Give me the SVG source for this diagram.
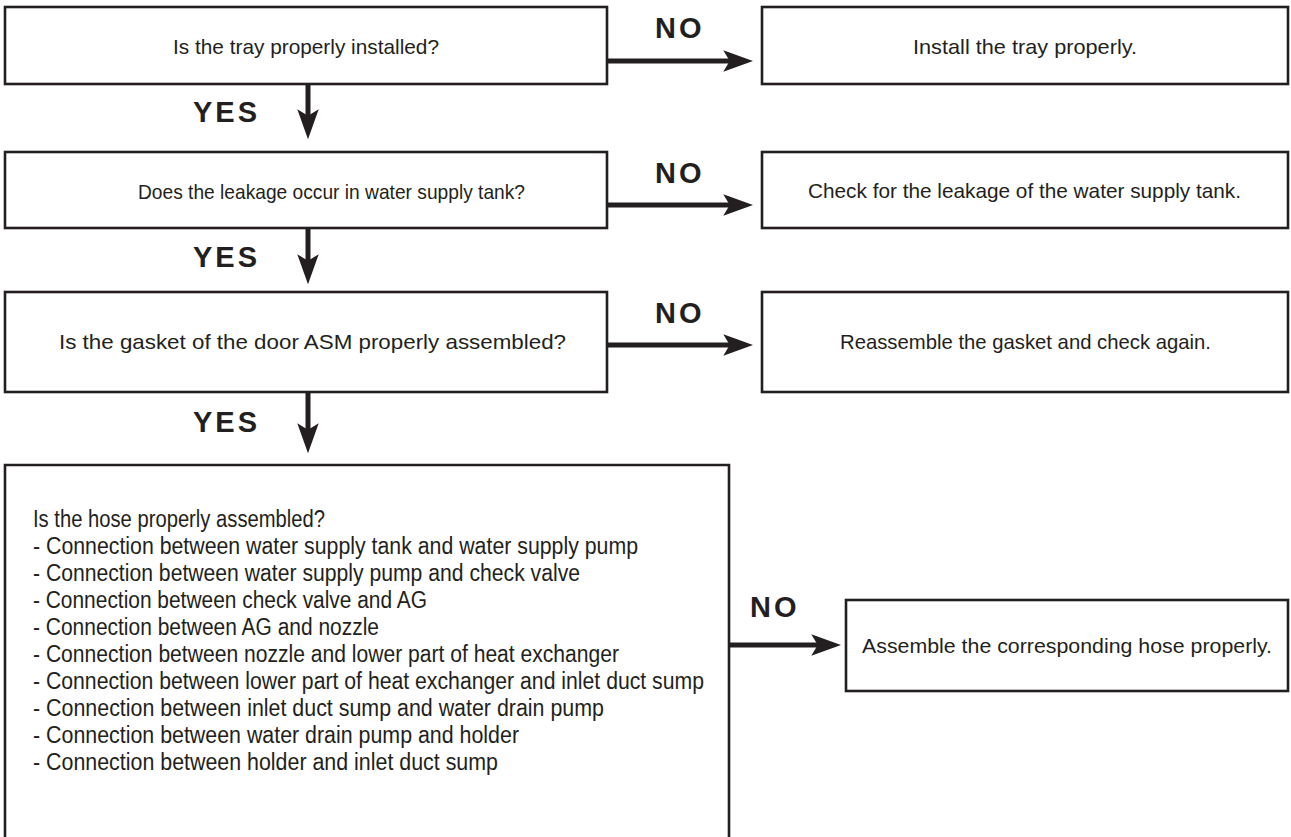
<svg xmlns="http://www.w3.org/2000/svg" width="1291" height="837" viewBox="0 0 1291 837">
<style>
.box{fill:#fff;stroke:#231f20;stroke-width:2.6}
.t{font-family:"Liberation Sans",Arial,sans-serif;font-size:21px;fill:#231f20}
.b{font-size:23px}
.c{text-anchor:middle}
.lbl{font-family:"Liberation Sans",Arial,sans-serif;font-size:29px;font-weight:bold;fill:#231f20;letter-spacing:3px}
.arr{fill:none;stroke:#231f20;stroke-width:5;marker-end:url(#ah)}
</style>
<defs>
<marker id="ah" markerUnits="userSpaceOnUse" markerWidth="30" markerHeight="22" viewBox="0 0 28 20" refX="10" refY="10" orient="auto">
<path d="M0,0 L28,10 L0,20 L6,10 Z" fill="#231f20"/>
</marker>
</defs>
<rect width="1291" height="837" fill="#fff"/>
<g id="connectors">
<line class="arr" x1="607" y1="61" x2="734" y2="61"/>
<line class="arr" x1="607" y1="205" x2="734" y2="205"/>
<line class="arr" x1="607" y1="345" x2="734" y2="345"/>
<line class="arr" x1="729" y1="645" x2="822" y2="645"/>
<line class="arr" x1="308" y1="84" x2="308" y2="120"/>
<line class="arr" x1="308" y1="228" x2="308" y2="265"/>
<line class="arr" x1="308" y1="392" x2="308" y2="434"/>
<text class="lbl" x="655" y="38">NO</text>
<text class="lbl" x="655" y="183">NO</text>
<text class="lbl" x="655" y="323">NO</text>
<text class="lbl" x="750" y="617">NO</text>
<text class="lbl" x="193" y="122">YES</text>
<text class="lbl" x="193" y="267">YES</text>
<text class="lbl" x="193" y="432">YES</text>
</g>
<g id="q1"><rect class="box" x="5" y="7" width="602" height="77"/><text class="t c" x="306" y="54" textLength="266" lengthAdjust="spacingAndGlyphs">Is the tray properly installed?</text></g>
<g id="a1"><rect class="box" x="762" y="7" width="526" height="77"/><text class="t c" x="1025" y="54" textLength="224" lengthAdjust="spacingAndGlyphs">Install the tray properly.</text></g>
<g id="q2"><rect class="box" x="5" y="152" width="602" height="76"/><text class="t" x="138" y="199" textLength="387" lengthAdjust="spacingAndGlyphs">Does the leakage occur in water supply tank?</text></g>
<g id="a2"><rect class="box" x="762" y="152" width="526" height="76"/><text class="t" x="808" y="198" textLength="433" lengthAdjust="spacingAndGlyphs">Check for the leakage of the water supply tank.</text></g>
<g id="q3"><rect class="box" x="5" y="292" width="602" height="100"/><text class="t" x="59" y="349" textLength="507" lengthAdjust="spacingAndGlyphs">Is the gasket of the door ASM properly assembled?</text></g>
<g id="a3"><rect class="box" x="762" y="292" width="526" height="100"/><text class="t" x="840" y="349" textLength="371" lengthAdjust="spacingAndGlyphs">Reassemble the gasket and check again.</text></g>
<g id="q4"><path class="box" d="M5,845 V465 H729 V845"/>
<text class="t b" x="33" y="527" textLength="292" lengthAdjust="spacingAndGlyphs">Is the hose properly assembled?</text>
<text class="t b" x="33" y="554" textLength="605" lengthAdjust="spacingAndGlyphs">- Connection between water supply tank and water supply pump</text>
<text class="t b" x="33" y="581" textLength="547" lengthAdjust="spacingAndGlyphs">- Connection between water supply pump and check valve</text>
<text class="t b" x="33" y="608" textLength="394" lengthAdjust="spacingAndGlyphs">- Connection between check valve and AG</text>
<text class="t b" x="33" y="635" textLength="346" lengthAdjust="spacingAndGlyphs">- Connection between AG and nozzle</text>
<text class="t b" x="33" y="662" textLength="586" lengthAdjust="spacingAndGlyphs">- Connection between nozzle and lower part of heat exchanger</text>
<text class="t b" x="33" y="689" textLength="671" lengthAdjust="spacingAndGlyphs">- Connection between lower part of heat exchanger and inlet duct sump</text>
<text class="t b" x="33" y="716" textLength="571" lengthAdjust="spacingAndGlyphs">- Connection between inlet duct sump and water drain pump</text>
<text class="t b" x="33" y="743" textLength="486" lengthAdjust="spacingAndGlyphs">- Connection between water drain pump and holder</text>
<text class="t b" x="33" y="770" textLength="465" lengthAdjust="spacingAndGlyphs">- Connection between holder and inlet duct sump</text>
</g>
<g id="a4"><rect class="box" x="846" y="600" width="442" height="91"/><text class="t c" x="1067" y="653" textLength="410" lengthAdjust="spacingAndGlyphs">Assemble the corresponding hose properly.</text></g>
</svg>
